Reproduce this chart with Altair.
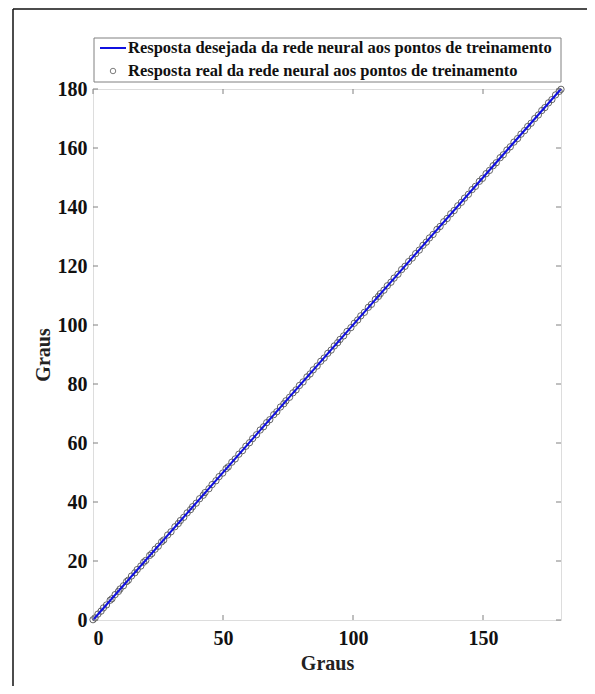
import altair as alt
import pandas as pd

# ---- data ----
linha_x = [0, 180]
linha_y = [0, 180]

pontos_x = [0, 0.8, 1.9, 3.1, 4.0, 5.2, 6.6, 7.3, 8.5, 9.8, 10.4, 11.7, 12.9, 13.6, 14.8,
            16.1, 17.0, 18.4, 19.5, 20.3, 21.8, 22.6, 23.9, 25.1, 26.4, 27.2, 28.7, 30.0,
            31.5, 32.8, 33.6, 34.9, 36.2, 37.5, 38.3, 39.7, 41.0, 42.4, 43.1, 44.6, 45.8,
            47.3, 48.5, 49.9, 51.2, 52.0, 53.4, 54.7, 56.1, 57.5, 58.8, 60.2, 61.4, 62.9,
            64.3, 65.6, 66.8, 68.0, 69.5, 70.7, 72.1, 73.4, 74.2, 75.6, 76.9, 78.1, 79.4,
            80.8, 82.3, 83.5, 84.7, 86.2, 87.6, 88.9, 90.3, 91.6, 92.8, 94.1, 95.0, 96.4,
            97.7, 99.2, 100.5, 101.8, 103.0, 104.4, 105.9, 107.1, 108.6, 109.8, 110.5,
            111.9, 113.2, 114.6, 115.8, 117.3, 118.7, 120.0, 121.4, 122.8, 124.1, 125.5,
            126.9, 128.2, 129.4, 130.8, 132.3, 133.5, 134.9, 136.2, 137.6, 138.9, 140.3,
            141.7, 142.9, 144.4, 145.8, 147.1, 148.6, 149.8, 151.2, 152.5, 153.9, 155.1,
            156.6, 157.8, 159.2, 160.5, 161.9, 163.3, 164.6, 166.0, 167.2, 168.5, 169.9,
            171.3, 172.6, 173.8, 175.2, 176.5, 177.9, 179.3, 180.0]
pontos_y = [0.1, 0.7, 2.0, 3.0, 4.1, 5.1, 6.7, 7.2, 8.6, 9.7, 10.5, 11.6, 13.0, 13.5, 14.9,
            16.0, 17.1, 18.3, 19.6, 20.2, 21.9, 22.5, 24.0, 25.0, 26.5, 27.1, 28.8, 29.9,
            31.6, 32.7, 33.7, 34.8, 36.3, 37.4, 38.4, 39.6, 41.1, 42.3, 43.2, 44.5, 45.9,
            47.2, 48.6, 49.8, 51.3, 51.9, 53.5, 54.6, 56.2, 57.4, 58.9, 60.1, 61.5, 62.8,
            64.4, 65.5, 66.9, 67.9, 69.6, 70.6, 72.2, 73.3, 74.3, 75.5, 77.0, 78.0, 79.5,
            80.7, 82.4, 83.4, 84.8, 86.1, 87.7, 88.8, 90.4, 91.5, 92.9, 94.0, 95.1, 96.3,
            97.8, 99.1, 100.6, 101.7, 103.1, 104.3, 106.0, 107.0, 108.7, 109.7, 110.6,
            111.8, 113.3, 114.5, 115.9, 117.2, 118.8, 119.9, 121.5, 122.7, 124.2, 125.4,
            127.0, 128.1, 129.5, 130.7, 132.4, 133.4, 135.0, 136.1, 137.7, 138.8, 140.4,
            141.6, 143.0, 144.3, 145.9, 147.0, 148.7, 149.7, 151.3, 152.4, 154.0, 155.0,
            156.7, 157.7, 159.3, 160.4, 162.0, 163.2, 164.7, 165.9, 167.3, 168.4, 170.0,
            171.2, 172.7, 173.7, 175.3, 176.4, 178.0, 179.2, 179.9]

x_ticks = [0, 50, 100, 150]
y_ticks = [0, 20, 40, 60, 80, 100, 120, 140, 160, 180]
legenda = ["Resposta desejada da rede neural aos pontos de treinamento",
           "Resposta real da rede neural aos pontos de treinamento"]

W, H = 468, 531
FONT = "Liberation Serif"
GRAY = "#808080"
BLUE = "#1010e0"
PT_COLOR = "#555555"

xs = alt.Scale(domain=[0, 180], nice=False, zero=False)
ys = alt.Scale(domain=[0, 180], nice=False, zero=False)

df_line = pd.DataFrame({"x": linha_x, "y": linha_y})
df_pts = pd.DataFrame({"x": pontos_x, "y": pontos_y})
dummy = alt.Data(values=[{"a": 1}])

x_axis = alt.Axis(values=x_ticks, title="Graus", labelFont=FONT, labelFontSize=20,
                  labelFontWeight="bold", labelColor="#111", titleFont=FONT,
                  titleFontSize=20, titleFontWeight="bold", titleColor="#222",
                  domain=False, ticks=False, grid=False, labelPadding=8, titlePadding=5)
y_axis = alt.Axis(values=y_ticks, title="Graus", labelFont=FONT, labelFontSize=20,
                  labelFontWeight="bold", labelColor="#111", titleFont=FONT,
                  titleFontSize=20, titleFontWeight="bold", titleColor="#222",
                  domain=False, ticks=False, grid=False, labelPadding=6, titlePadding=4)

pts = alt.Chart(df_pts).mark_point(shape="circle", filled=False, size=40,
                                   strokeWidth=0.9, color=PT_COLOR, opacity=1).encode(
    x=alt.X("x:Q", scale=xs, axis=x_axis),
    y=alt.Y("y:Q", scale=ys, axis=y_axis),
)

line = alt.Chart(df_line).mark_line(color=BLUE, strokeWidth=2).encode(
    x=alt.X("x:Q", scale=xs),
    y=alt.Y("y:Q", scale=ys),
)

df_xt = pd.DataFrame({"v": x_ticks})
df_yt = pd.DataFrame({"v": y_ticks})
tick_style = dict(color=GRAY, strokeWidth=1)
xt_bot = alt.Chart(df_xt).mark_rule(**tick_style).encode(
    x=alt.X("v:Q", scale=xs), y=alt.value(H), y2=alt.value(H - 5))
xt_top = alt.Chart(df_xt).mark_rule(**tick_style).encode(
    x=alt.X("v:Q", scale=xs), y=alt.value(0), y2=alt.value(5))
yt_left = alt.Chart(df_yt).mark_rule(**tick_style).encode(
    y=alt.Y("v:Q", scale=ys), x=alt.value(0), x2=alt.value(5))
yt_right = alt.Chart(df_yt).mark_rule(**tick_style).encode(
    y=alt.Y("v:Q", scale=ys), x=alt.value(W - 5), x2=alt.value(W))

# outer figure frame (left and top edges visible)
frame_l = alt.Chart(dummy).mark_rule(color="#111", strokeWidth=1.5).encode(
    x=alt.value(-80), y=alt.value(-80), y2=alt.value(H + 66))
frame_t = alt.Chart(dummy).mark_rule(color="#111", strokeWidth=1.5).encode(
    x=alt.value(-80), x2=alt.value(W + 26), y=alt.value(-80))

# legend box
leg_box = alt.Chart(dummy).mark_rect(fill="white", stroke=GRAY, strokeWidth=1).encode(
    x=alt.value(1), x2=alt.value(W), y=alt.value(-51), y2=alt.value(-7))
leg_line = alt.Chart(dummy).mark_rule(color=BLUE, strokeWidth=2).encode(
    x=alt.value(7), x2=alt.value(33), y=alt.value(-41))
leg_pt = alt.Chart(dummy).mark_point(shape="circle", filled=False, size=30,
                                     strokeWidth=0.9, color="#333333").encode(
    x=alt.value(20), y=alt.value(-18))
leg_t1 = alt.Chart(dummy).mark_text(align="left", baseline="middle", font=FONT,
                                    fontSize=16.5, fontWeight="bold", color="#111").encode(
    x=alt.value(35), y=alt.value(-41), text=alt.value(legenda[0]))
leg_t2 = alt.Chart(dummy).mark_text(align="left", baseline="middle", font=FONT,
                                    fontSize=16.5, fontWeight="bold", color="#111").encode(
    x=alt.value(35), y=alt.value(-18), text=alt.value(legenda[1]))

chart = alt.layer(
    frame_l, frame_t, pts, line, xt_bot, xt_top, yt_left, yt_right,
    leg_box, leg_line, leg_pt, leg_t1, leg_t2
).properties(
    width=W, height=H,
    padding={"left": 85, "top": 81, "right": 26, "bottom": 66},
    autosize=alt.AutoSizeParams(type="none"),
).configure_view(stroke=GRAY, strokeWidth=1.2).configure(background="white")

chart.save("out.html", embed_options={"renderer": "svg", "actions": False})
